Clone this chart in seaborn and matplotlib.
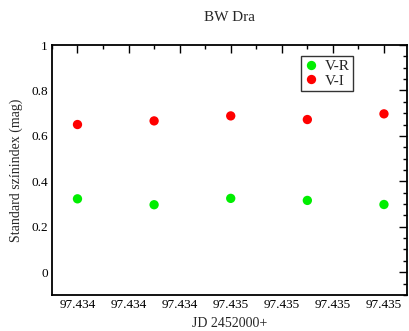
import matplotlib
matplotlib.use("Agg")
import matplotlib.pyplot as plt
import seaborn as sns
import pandas as pd
from matplotlib.ticker import MultipleLocator, FormatStrFormatter

jd = [97.4340, 97.4343, 97.4346, 97.4349, 97.4352]
v_r = [0.323, 0.297, 0.325, 0.316, 0.298]
v_i = [0.650, 0.666, 0.688, 0.672, 0.697]
series = ["V-R", "V-I"]
colors = {"V-R": "#00ee00", "V-I": "#ff0000"}

df = pd.DataFrame({
    "jd": jd * 2,
    "ci": v_r + v_i,
    "series": ["V-R"] * len(jd) + ["V-I"] * len(jd),
})

sns.set_style("white")
plt.rcParams["font.family"] = ["Liberation Serif", "DejaVu Serif"]

fig = plt.figure(figsize=(4.09, 3.31), dpi=100)
ax = fig.add_axes([0.127, 0.109, 0.868, 0.755])
sns.scatterplot(data=df, x="jd", y="ci", hue="series", hue_order=series,
                palette=colors, s=45, edgecolor="none", ax=ax, legend=True)

ax.set_xlim(97.43390, 97.43529)
ax.set_ylim(-0.1, 1.0)
ax.xaxis.set_major_locator(MultipleLocator(0.0002))
ax.xaxis.set_minor_locator(MultipleLocator(0.0001))
ax.xaxis.set_major_formatter(FormatStrFormatter("%.3f"))
ax.yaxis.set_major_locator(MultipleLocator(0.2))
ax.yaxis.set_minor_locator(MultipleLocator(0.05))
ax.yaxis.set_major_formatter(plt.FuncFormatter(lambda v, p: "%g" % round(v, 2)))
ax.tick_params(which="both", direction="in", top=True, right=True,
               labelsize=9.5, colors="black", width=1)
ax.tick_params(which="major", length=6, pad=3)
ax.tick_params(which="minor", length=3)
for sp in ax.spines.values():
    sp.set_color("black")
    sp.set_linewidth(1.3)

ax.set_xlabel("JD 2452000+", fontsize=10, labelpad=4)
ax.set_ylabel("Standard színindex (mag)", fontsize=10, labelpad=6)
ax.set_title("BW Dra", fontsize=11, pad=17)

leg = ax.legend(loc="upper right", bbox_to_anchor=(0.87, 0.985), fontsize=11,
                frameon=True, fancybox=False, handletextpad=0.4,
                borderpad=0.2, labelspacing=0.05, handlelength=1.0,
                markerscale=1.0)
leg.get_frame().set_edgecolor("black")
leg.get_frame().set_linewidth(1.0)

fig.savefig("out.png", dpi=100)
